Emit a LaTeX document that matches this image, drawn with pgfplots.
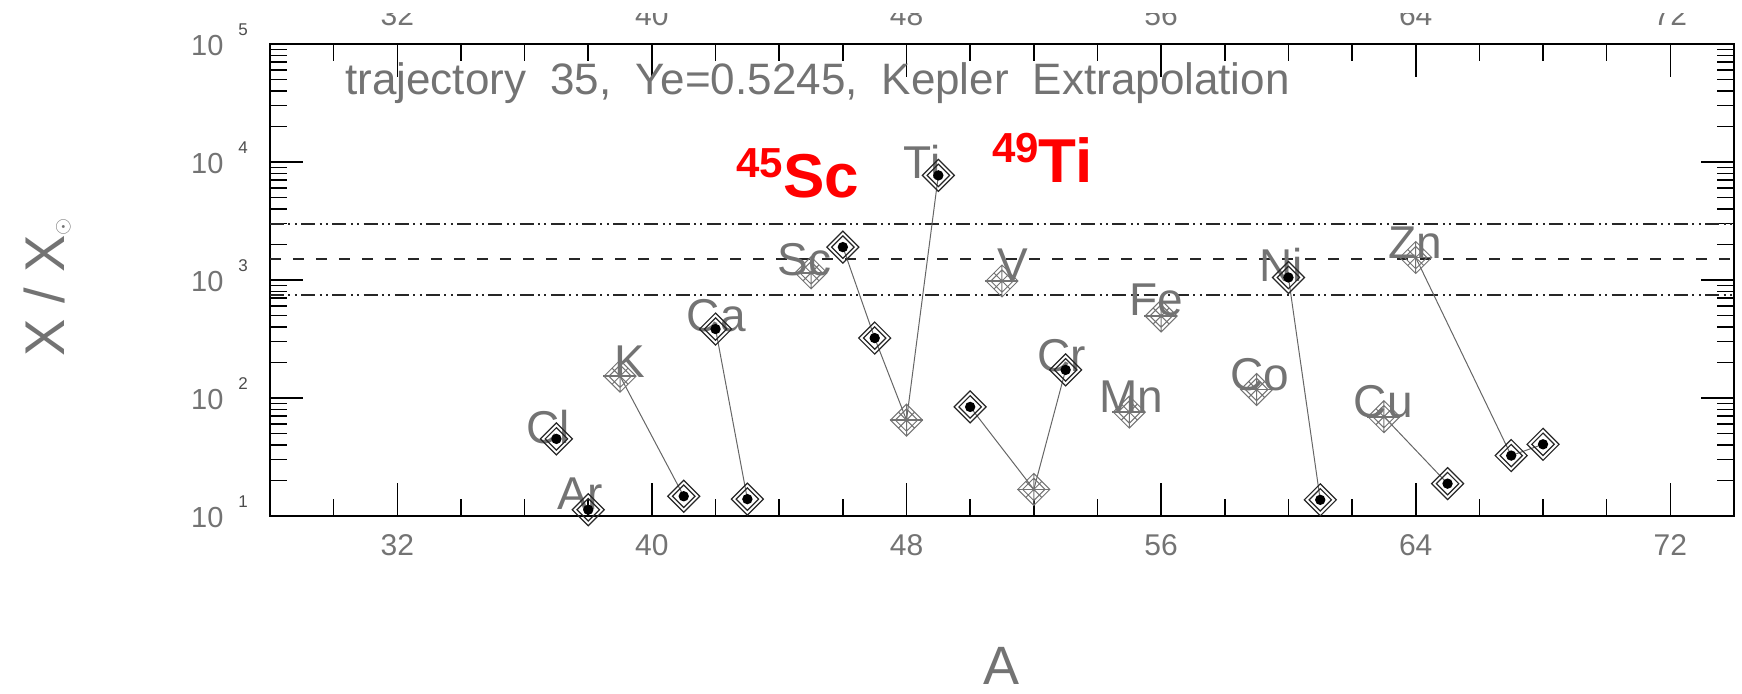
\documentclass[border=0pt]{standalone}
\usepackage{pgfplots}
\pgfplotsset{compat=1.18}
\usepackage{fontspec}
\setmainfont{Liberation Sans}
\definecolor{hershey}{gray}{0.45}
\definecolor{refred}{RGB}{255,0,0}

% double diamond with a filled dot
\pgfdeclareplotmark{dd}{%
  \pgfsetlinewidth{0.6pt}%
  \pgfpathmoveto{\pgfqpoint{0pt}{8pt}}\pgfpathlineto{\pgfqpoint{8pt}{0pt}}%
  \pgfpathlineto{\pgfqpoint{0pt}{-8pt}}\pgfpathlineto{\pgfqpoint{-8pt}{0pt}}\pgfpathclose
  \pgfpathmoveto{\pgfqpoint{0pt}{5.6pt}}\pgfpathlineto{\pgfqpoint{5.6pt}{0pt}}%
  \pgfpathlineto{\pgfqpoint{0pt}{-5.6pt}}\pgfpathlineto{\pgfqpoint{-5.6pt}{0pt}}\pgfpathclose
  \pgfusepathqstroke
  \pgfpathcircle{\pgfpointorigin}{2.6pt}\pgfusepathqfill
}
% double diamond with an asterisk
\pgfdeclareplotmark{da}{%
  \pgfsetlinewidth{0.5pt}%
  \pgfpathmoveto{\pgfqpoint{0pt}{8pt}}\pgfpathlineto{\pgfqpoint{8pt}{0pt}}%
  \pgfpathlineto{\pgfqpoint{0pt}{-8pt}}\pgfpathlineto{\pgfqpoint{-8pt}{0pt}}\pgfpathclose
  \pgfpathmoveto{\pgfqpoint{0pt}{5.6pt}}\pgfpathlineto{\pgfqpoint{5.6pt}{0pt}}%
  \pgfpathlineto{\pgfqpoint{0pt}{-5.6pt}}\pgfpathlineto{\pgfqpoint{-5.6pt}{0pt}}\pgfpathclose
  \pgfpathmoveto{\pgfqpoint{0pt}{8pt}}\pgfpathlineto{\pgfqpoint{0pt}{-8pt}}%
  \pgfpathmoveto{\pgfqpoint{-4pt}{-4pt}}\pgfpathlineto{\pgfqpoint{4pt}{4pt}}%
  \pgfpathmoveto{\pgfqpoint{-4pt}{4pt}}\pgfpathlineto{\pgfqpoint{4pt}{-4pt}}%
  \pgfusepathqstroke
  \pgfsetlinewidth{0.9pt}%
  \pgfpathmoveto{\pgfqpoint{-8.5pt}{0pt}}\pgfpathlineto{\pgfqpoint{8pt}{0pt}}%
  \pgfusepathqstroke
}

\newcommand{\ytl}[1]{10\hspace{7.5pt}\raisebox{10pt}[0pt][0pt]{\fontsize{8.5}{8.5}\selectfont\color{black!70}#1}}

\begin{document}
\begin{tikzpicture}
\useasboundingbox (0,0) rectangle (871pt,347pt);
\begin{axis}[
  at={(135pt,89pt)}, anchor=south west,
  scale only axis, width=732pt, height=236pt,
  xmin=28, xmax=74, ymin=10, ymax=100000, ymode=log,
  xtick={32,40,48,56,64,72},
  xticklabels={32,40,48,56,64,72},
  minor xtick={28,30,...,74},
  ytick={10,100,1000,10000,100000},
  yticklabels={\ytl{1},\ytl{2},\ytl{3},\ytl{4},\ytl{5}},
  tick align=inside,
  xtick pos=both, ytick pos=both,
  major tick length=16.5pt, minor tick length=8.5pt,
  tick style={line width=0.8pt, black},
  axis line style={line width=1pt, black},
  xticklabel style={font=\fontsize{15}{15}\selectfont, text=hershey, yshift=-5.5pt},
  yticklabel style={font=\fontsize{14.5}{14.5}\selectfont, text=hershey, xshift=-7.5pt, yshift=-1pt},
  xlabel={A},
  xlabel style={font=\fontsize{27}{27}\selectfont, text=hershey, at={(axis description cs:0.5,-0.318)}, anchor=center},
  ylabel={X / X\raisebox{-2pt}{\fontsize{11}{11}\selectfont$\odot$}},
  ylabel style={font=\fontsize{28}{28}\selectfont, text=hershey, at={(axis description cs:-0.152,0.484)}, anchor=center},
  clip=false,
]
% reference lines
\addplot[no marks, black!85, line width=1pt, dash pattern=on 7pt off 2.2pt on 1pt off 2.2pt on 1pt off 2.2pt] coordinates {(28,3000) (74,3000)};
\addplot[no marks, black!85, line width=1pt, dash pattern=on 5.5pt off 6pt] coordinates {(28,1500) (74,1500)};
\addplot[no marks, black!85, line width=1pt, dash pattern=on 7pt off 2.2pt on 1pt off 2.2pt on 1pt off 2.2pt] coordinates {(28,750) (74,750)};

% connecting lines between isotopes of one element
\addplot[no marks, black!60, line width=0.5pt] coordinates {(39,153) (41,14.7)};
\addplot[no marks, black!60, line width=0.5pt] coordinates {(42,384) (43,13.9)};
\addplot[no marks, black!60, line width=0.5pt] coordinates {(46,1900) (47,322) (48,65) (49,7700)};
\addplot[no marks, black!60, line width=0.5pt] coordinates {(50,84) (52,16.8) (53,173)};
\addplot[no marks, black!60, line width=0.5pt] coordinates {(60,1050) (61,13.7)};
\addplot[no marks, black!60, line width=0.5pt] coordinates {(63,69.5) (65,18.8)};
\addplot[no marks, black!60, line width=0.5pt] coordinates {(64,1550) (67,32.5) (68,40.5)};

% element labels
\node[font=\fontsize{23}{23}\selectfont, text=hershey, inner sep=0pt] at (axis cs:36.75,56.8) {Cl};
\node[font=\fontsize{23}{23}\selectfont, text=hershey, inner sep=0pt] at (axis cs:37.75,15.4) {Ar};
\node[font=\fontsize{23}{23}\selectfont, text=hershey, inner sep=0pt] at (axis cs:39.3,204) {K};
\node[font=\fontsize{23}{23}\selectfont, text=hershey, inner sep=0pt] at (axis cs:42.02,495) {Ca};
\node[font=\fontsize{23}{23}\selectfont, text=hershey, inner sep=0pt] at (axis cs:44.8,1480) {Sc};
\node[font=\fontsize{23}{23}\selectfont, text=hershey, inner sep=0pt] at (axis cs:48.49,10000) {Ti};
\node[font=\fontsize{23}{23}\selectfont, text=hershey, inner sep=0pt] at (axis cs:51.34,1340) {V};
\node[font=\fontsize{23}{23}\selectfont, text=hershey, inner sep=0pt] at (axis cs:52.88,227) {Cr};
\node[font=\fontsize{23}{23}\selectfont, text=hershey, inner sep=0pt] at (axis cs:55.06,102) {Mn};
\node[font=\fontsize{23}{23}\selectfont, text=hershey, inner sep=0pt] at (axis cs:55.85,676) {Fe};
\node[font=\fontsize{23}{23}\selectfont, text=hershey, inner sep=0pt] at (axis cs:59.1,157) {Co};
\node[font=\fontsize{23}{23}\selectfont, text=hershey, inner sep=0pt] at (axis cs:59.78,1340) {Ni};
\node[font=\fontsize{23}{23}\selectfont, text=hershey, inner sep=0pt] at (axis cs:62.98,92.5) {Cu};
\node[font=\fontsize{23}{23}\selectfont, text=hershey, inner sep=0pt] at (axis cs:63.98,2061) {Zn};

% title
\node[anchor=base west, inner sep=0pt, font=\fontsize{22}{22}\selectfont, text=hershey]
  at (rel axis cs:0.0512,0.892) {trajectory\hspace{12pt}35,\hspace{12pt}Ye=0.5245,\hspace{12pt}Kepler\hspace{12pt}Extrapolation};

% red isotope labels
\node[anchor=base west, inner sep=0pt, text=refred, font=\bfseries]
  at (axis cs:42.645,4955) {\fontsize{21}{21}\selectfont\raisebox{10pt}{45}\fontsize{31}{31}\selectfont Sc};
\node[anchor=base west, inner sep=0pt, text=refred, font=\bfseries]
  at (axis cs:50.68,6760) {\fontsize{21}{21}\selectfont\raisebox{10pt}{49}\fontsize{31}{31}\selectfont Ti};

% isotopes: dot markers
\addplot[only marks, mark=dd, draw=black!85, fill=black] coordinates {
  (37,45) (38,11.3) (41,14.7) (42,384) (43,13.9)
  (46,1900) (47,322) (49,7700) (50,84) (53,173)
  (60,1050) (61,13.7) (65,18.8) (67,32.5) (68,40.5)
};
% isotopes: asterisk markers
\addplot[only marks, mark=da, draw=black!55] coordinates {
  (39,153) (45,1150) (48,65) (51,980) (52,16.8)
  (55,76) (56,495) (59,118) (63,69.5) (64,1550)
};
\end{axis}

% upper x tick labels (only their lower part shows, as in the reference)
\begin{axis}[
  at={(135pt,89pt)}, anchor=south west,
  scale only axis, width=732pt, height=236pt,
  xmin=28, xmax=74, ymin=0, ymax=1,
  axis x line*=top, axis y line=none,
  axis line style={draw=none},
  xtick={32,40,48,56,64,72},
  xticklabels={32,40,48,56,64,72},
  major tick length=0pt,
  xticklabel style={font=\fontsize{15}{15}\selectfont, text=hershey, yshift=5.5pt, overlay},
]
\addplot[draw=none] coordinates {(30,0.5)};
\end{axis}
\fill[white, overlay] (-2pt,340.5pt) rectangle (873pt,370pt);
\end{tikzpicture}
\end{document}
